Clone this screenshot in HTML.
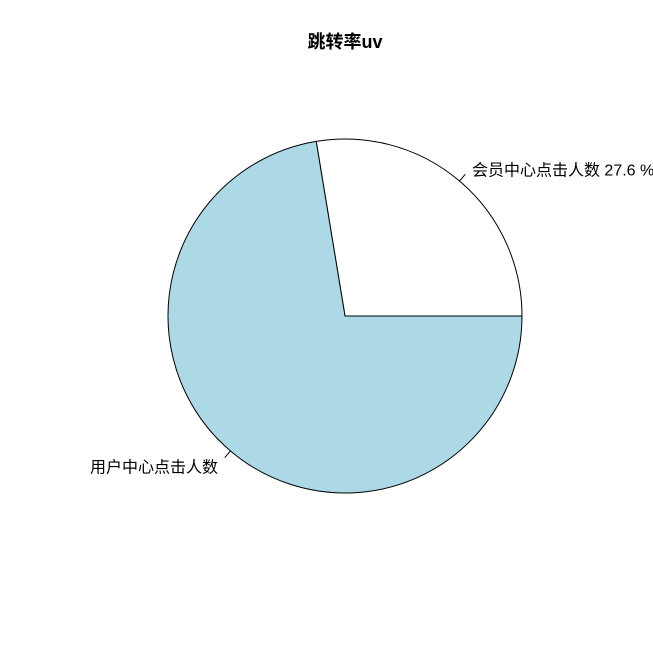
<!DOCTYPE html>
<html><head><meta charset="utf-8"><style>
html,body{margin:0;padding:0;background:#fff;}
svg text{font-family:"Liberation Sans","Noto Sans CJK SC",sans-serif;}
</style></head><body>
<svg id="chart" width="653" height="653" viewBox="0 0 653 653">
<rect width="653" height="653" fill="#fff"/>
<text x="345" y="48" text-anchor="middle" font-size="18" font-weight="bold">跳转率uv</text>
<g id="slices"></g>
</svg>
<script>
const categories = ["会员中心点击人数", "用户中心点击人数"];
const values = [27.6, 72.4];
const printedLabels = ["会员中心点击人数 27.6 %", "用户中心点击人数"];
const colors = ["#ffffff", "#add8e6"];

const cx = 345, cy = 316, r = 177;
const g = document.getElementById('slices');
const ns = 'http://www.w3.org/2000/svg';
const total = values.reduce((a, b) => a + b, 0);
function pt(angDeg, rr) {
  const a = angDeg * Math.PI / 180;
  return [cx + rr * Math.cos(a), cy - rr * Math.sin(a)];
}
let start = 0;
values.forEach((v, i) => {
  const sweep = v / total * 360;
  const end = start + sweep;
  const p0 = pt(start, r), p1 = pt(end, r);
  const large = sweep > 180 ? 1 : 0;
  const path = document.createElementNS(ns, 'path');
  path.setAttribute('d', `M${cx},${cy} L${p0[0]},${p0[1]} A${r},${r} 0 ${large} 0 ${p1[0]},${p1[1]} Z`);
  path.setAttribute('fill', colors[i]);
  path.setAttribute('stroke', '#000');
  path.setAttribute('stroke-width', '1');
  
  
  g.appendChild(path);
  const mid = (start + end) / 2;
  const a = pt(mid, r), b = pt(mid, r * 1.05), c = pt(mid, r * 1.1);
  const line = document.createElementNS(ns, 'line');
  line.setAttribute('x1', a[0]); line.setAttribute('y1', a[1]);
  line.setAttribute('x2', b[0]); line.setAttribute('y2', b[1]);
  line.setAttribute('stroke', '#000');
  
  
  g.appendChild(line);
  const t = document.createElementNS(ns, 'text');
  const right = Math.cos(mid * Math.PI / 180) > 0;
  t.setAttribute('x', c[0] + (right ? 1 : -1));
  t.setAttribute('y', c[1] + 8);
  t.setAttribute('font-size', '16');
  t.setAttribute('text-anchor', right ? 'start' : 'end');
  t.textContent = printedLabels[i];
  
  
  g.appendChild(t);
  start = end;
});
</script>
</body></html>
